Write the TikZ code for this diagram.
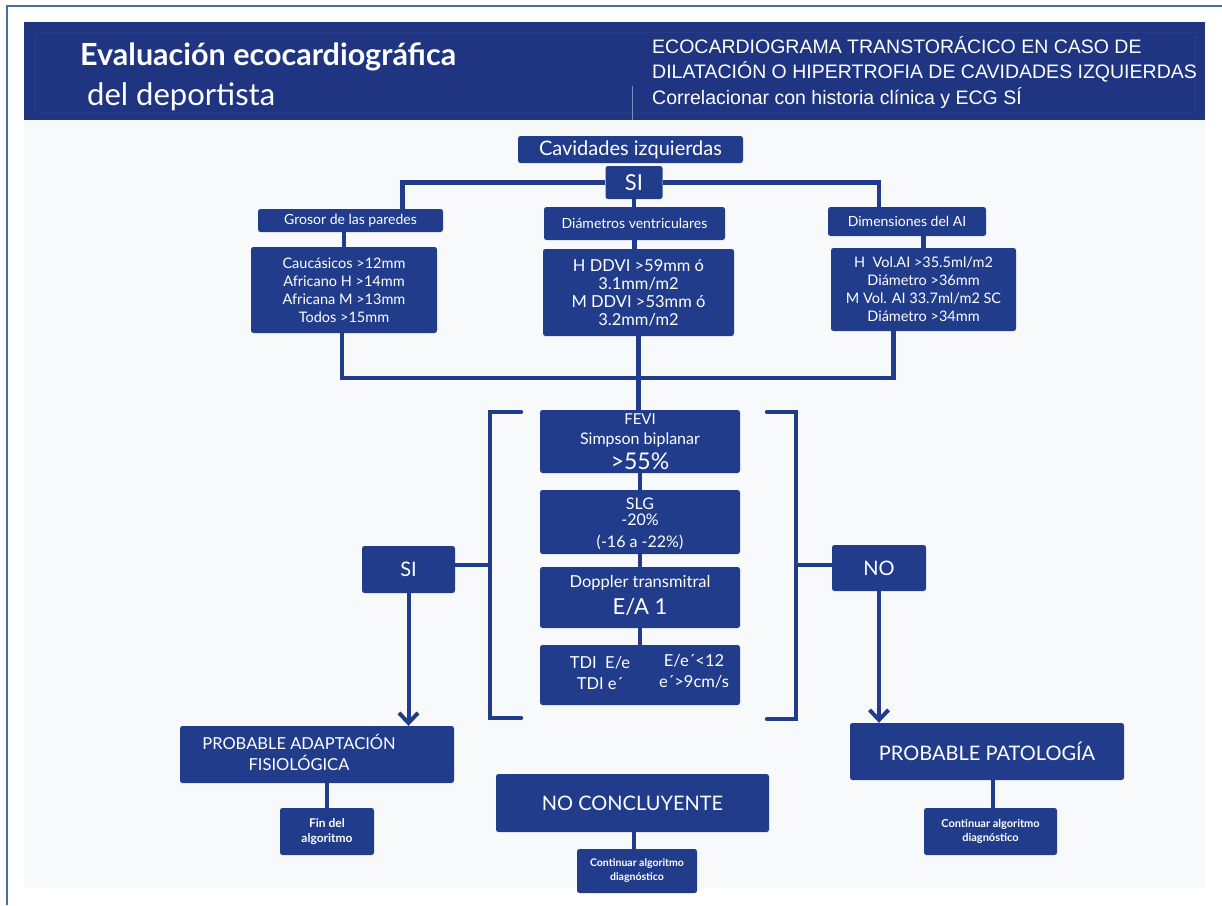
\documentclass[tikz,border=0pt]{standalone}
\usepackage{fontspec}
\setmainfont{Lato}
\newfontfamily\hdfont{Liberation Sans}
\usetikzlibrary{arrows.meta}

\definecolor{navy}{RGB}{34,60,140}
\definecolor{hdr}{RGB}{31,53,130}
\definecolor{paper}{RGB}{248,249,251}
\definecolor{framecol}{RGB}{70,108,160}
\definecolor{divider}{RGB}{120,140,190}

\begin{document}
\begin{tikzpicture}[x=1pt,y=-1pt,
  box/.style={fill=navy, rounded corners=2.5pt, text=white, inner sep=0pt,
              align=center, anchor=center},
  txt/.style={text=white, inner sep=0pt, align=center, anchor=center},
  link/.style={draw=navy, line width=4.5pt},
  arr/.style={draw=navy, line width=4pt,
              -{Straight Barb[length=10pt,width=19pt,line width=4pt]}},
  bracket/.style={draw=navy, line width=4.5pt, line cap=round},
]
\useasboundingbox (0,0) rectangle (1222,905);

% page frame and paper
\fill[white] (0,0) rectangle (1222,905);
\draw[framecol, line width=1.5pt] (7,905) -- (7,6) -- (1222,6);
\fill[paper] (24,120) rectangle (1205,888);

% header band
\fill[hdr] (24,22) rectangle (1205,120);
\draw[white, opacity=0.04, line width=1pt] (35,32) rectangle (1195,112);
\draw[divider, line width=1pt] (632,86) -- (632,120);
\node[txt, anchor=base west, font=\bfseries\fontsize{30.5}{32}\selectfont] (ttl1) at (80,65) {Evaluación ecocardiográfica};
\node[txt, anchor=base west, font=\fontsize{31}{32}\selectfont] (ttl2) at (87,105) {del deportista};
\node[txt, anchor=base west, font=\hdfont\fontsize{19.5}{22}\selectfont] (hd1) at (652,53) {ECOCARDIOGRAMA TRANSTORÁCICO EN CASO DE};
\node[txt, anchor=base west, font=\hdfont\fontsize{19.5}{22}\selectfont] (hd2) at (652,78) {DILATACIÓN O HIPERTROFIA DE CAVIDADES IZQUIERDAS};
\node[txt, anchor=base west, font=\hdfont\fontsize{19.5}{22}\selectfont] (hd3) at (652,104) {Correlacionar con historia clínica y ECG SÍ};

% top of the tree
\node[box, minimum width=225, minimum height=27, font=\fontsize{20}{22}\selectfont] (cav) at (630.5,149.5) {Cavidades izquierdas};
\node[box, minimum width=57, minimum height=33, font=\fontsize{22}{24}\selectfont] (siT) at (634,182.5) {SI};

\node[box, minimum width=185, minimum height=23, font=\fontsize{14}{16}\selectfont] (gro) at (350.5,220.5) {Grosor de las paredes};
\node[box, minimum width=181, minimum height=33, font=\fontsize{14}{16}\selectfont] (dia) at (634.5,223.5) {Diámetros ventriculares};
\node[box, minimum width=158, minimum height=29, font=\fontsize{14}{16}\selectfont] (dim) at (907,221.5) {Dimensiones del AI};

\node[box, minimum width=186, minimum height=86, font=\fontsize{14.5}{18}\selectfont] (cau) at (344,290) {Caucásicos >12mm\\Africano H >14mm\\Africana M >13mm\\Todos >15mm};
\node[box, minimum width=191, minimum height=87, font=\fontsize{16.5}{18}\selectfont] (ddvi) at (638.5,292.5) {H DDVI >59mm ó\\3.1mm/m2\\M DDVI >53mm ó\\3.2mm/m2};
\node[box, minimum width=185, minimum height=83, font=\fontsize{14.5}{18}\selectfont] (dimd) at (923.5,289.5) {H\ \ Vol.AI >35.5ml/m2\\Diámetro >36mm\\M Vol. AI 33.7ml/m2 SC\\Diámetro >34mm};

\draw[link] (siT.west) -| ([xshift=52pt]gro.north);
\draw[link] (siT.east) -| ([xshift=-28pt]dim.north);
\draw[link] (siT.south) -- (siT.south |- dia.north);
\draw[link] (cau.north |- gro.south) -- (cau.north);
\draw[link] (dia.south) -- (dia.south |- ddvi.north);
\draw[link] (dimd.north |- dim.south) -- (dimd.north);

\coordinate (merge) at (639,378);
\draw[link] ([xshift=-2pt]cau.south) |- (merge) -| ([xshift=-30pt]dimd.south);

% central checks
\node[box, minimum width=200, minimum height=63] (fevi) at (640,441.5) {};
\node[txt, font=\fontsize{15}{16}\selectfont] (fevi1) at (640,419) {FEVI};
\node[txt, font=\fontsize{16}{18}\selectfont] (fevi2) at (640,440) {Simpson biplanar};
\node[txt, font=\fontsize{23}{25}\selectfont] (fevi3) at (640,461) {>55\%};

\node[box, minimum width=200, minimum height=64] (slg) at (640,522) {};
\node[txt, font=\fontsize{16}{18}\selectfont] (slg1) at (640,504) {SLG};
\node[txt, font=\fontsize{16}{18}\selectfont] (slg2) at (640,520) {-20\%};
\node[txt, font=\fontsize{16}{18}\selectfont] (slg3) at (640,542) {(-16 a -22\%)};

\node[box, minimum width=200, minimum height=61] (dop) at (640,597.5) {};
\node[txt, font=\fontsize{16.5}{18}\selectfont] (dop1) at (640,583) {Doppler transmitral};
\node[txt, font=\fontsize{22}{24}\selectfont] (dop2) at (640,607) {E/A 1};

\node[box, minimum width=200, minimum height=60] (tdi) at (640,675) {};
\node[txt, font=\fontsize{16.5}{21}\selectfont] (tdi1) at (600,673) {TDI\ \ E/e\\TDI e´};
\node[txt, font=\fontsize{16.5}{21}\selectfont] (tdi2) at (694,671) {E/e´<12\\e´>9cm/s};

\draw[link] (ddvi.south) -- (ddvi.south |- fevi.north);
\draw[link] (fevi.south) -- (slg.north);
\draw[link] (slg.south) -- (dop.north);
\draw[link] (dop.south) -- (tdi.north);

% brackets round the checks
\coordinate (lbT) at (521,412);
\coordinate (lbB) at (521,718);
\coordinate (lbM) at (490,565);
\coordinate (rbT) at (767,412);
\coordinate (rbB) at (767,719);
\coordinate (rbM) at (796,565);
\draw[bracket] (lbT) -- (lbT -| lbM) -- (lbB -| lbM) -- (lbB);
\draw[bracket] (rbT) -- (rbT -| rbM) -- (rbB -| rbM) -- (rbB);

% answers
\node[box, minimum width=93, minimum height=47, font=\fontsize{20}{22}\selectfont] (siL) at (408.5,569.5) {SI};
\node[box, minimum width=94, minimum height=46, font=\fontsize{20}{22}\selectfont] (noR) at (879,568) {NO};
\draw[link] (lbM) -- (lbM -| siL.east);
\draw[link] (rbM) -- (rbM -| noR.west);

% outcomes
\node[box, minimum width=274, minimum height=57] (adap) at (317,754.5) {};
\node[txt, font=\fontsize{16.5}{21}\selectfont] (adapt) at (299,752.5) {PROBABLE ADAPTACIÓN\\FISIOLÓGICA};
\node[box, minimum width=274, minimum height=57, font=\fontsize{20}{22}\selectfont] (pat) at (987,751.5) {PROBABLE PATOLOGÍA};
\node[box, minimum width=273, minimum height=58, font=\fontsize{20}{22}\selectfont] (ncon) at (632.5,803) {NO CONCLUYENTE};

\draw[arr] (siL.south) -- (siL.south |- adap.north);
\draw[arr] (noR.south) -- (noR.south |- pat.north);

\node[box, minimum width=94, minimum height=47, font=\bfseries\fontsize{12}{15}\selectfont] (fin) at (327,831.5) {Fin del\\algoritmo};
\node[box, minimum width=120, minimum height=44, font=\bfseries\fontsize{10.5}{14}\selectfont] (cont1) at (637,871) {Continuar algoritmo\\diagnóstico};
\node[box, minimum width=133, minimum height=47, font=\bfseries\fontsize{11}{14}\selectfont] (cont2) at (990.5,831.5) {Continuar algoritmo\\diagnóstico};

\draw[link] (fin.north |- adap.south) -- (fin.north);
\draw[link] ([xshift=-3pt]cont1.north |- ncon.south) -- ([xshift=-3pt]cont1.north);
\draw[link] ([xshift=2.5pt]cont2.north |- pat.south) -- ([xshift=2.5pt]cont2.north);
\end{tikzpicture}
\end{document}
